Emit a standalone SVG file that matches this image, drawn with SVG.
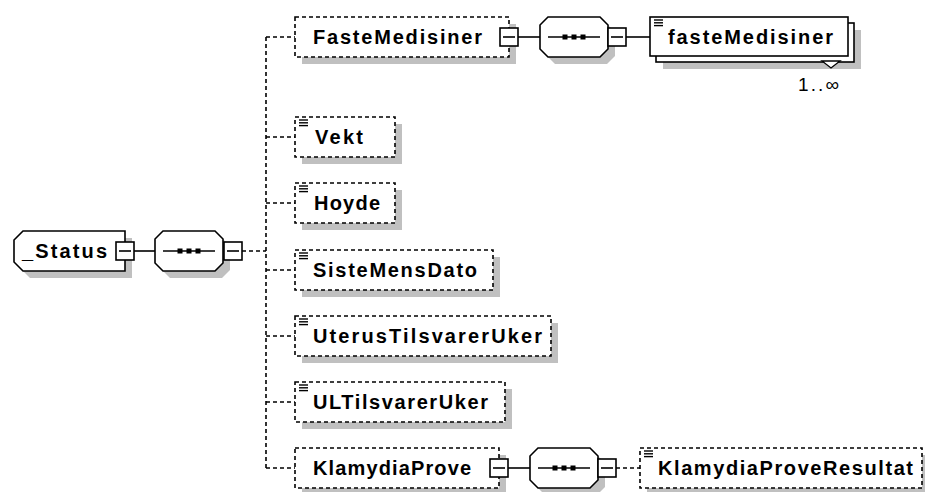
<svg xmlns="http://www.w3.org/2000/svg" xmlns:xlink="http://www.w3.org/1999/xlink" width="925" height="492" viewBox="0 0 925 492">
<style>
.bg{fill:#fff}
.sh{fill:#c0c0c0;stroke:none}
.box{fill:#fff;stroke:#000;stroke-width:1.6}
.dbox{fill:#fff;stroke:#000;stroke-width:1.6;stroke-dasharray:4 3}
.ln{stroke:#000;stroke-width:1.6;fill:none}
.dl{stroke:#000;stroke-width:1.6;fill:none;stroke-dasharray:4 3}
.t{font-family:"Liberation Sans",Arial,sans-serif;font-weight:bold;font-size:20px;fill:#000}
.m{font-family:"Liberation Sans",Arial,sans-serif;font-size:19px;fill:#000}
</style>
<defs>
<polygon id="oct" points="8,0 60,0 68,8 68,32 60,40 8,40 0,32 0,8"/>
<g id="seqmark">
<line x1="8" y1="20" x2="60" y2="20" stroke="#000" stroke-width="1.6"/>
<rect x="22.5" y="17.5" width="5" height="5" fill="#000"/>
<rect x="31.5" y="17.5" width="5" height="5" fill="#000"/>
<rect x="40.5" y="17.5" width="5" height="5" fill="#000"/>
</g>
<g id="minus">
<rect x="0" y="0" width="18" height="18" fill="#fff" stroke="#000" stroke-width="1.6"/>
<line x1="3" y1="9" x2="15" y2="9" stroke="#000" stroke-width="1.6"/>
</g>
<g id="icon" stroke="#000" stroke-width="1.4">
<line x1="0" y1="0" x2="9" y2="0"/>
<line x1="0" y1="2.8" x2="9" y2="2.8"/>
<line x1="0" y1="5.6" x2="9" y2="5.6"/>
</g>
</defs>
<rect class="bg" x="0" y="0" width="925" height="492"/>

<g id="connectors">
<line class="ln" x1="134" y1="251" x2="155" y2="251"/>
<line class="dl" x1="242" y1="251" x2="266" y2="251"/>
<line class="dl" x1="266" y1="37" x2="266" y2="468"/>
<line class="dl" x1="266" y1="37" x2="295" y2="37"/>
<line class="dl" x1="266" y1="137" x2="295" y2="137"/>
<line class="dl" x1="266" y1="203" x2="295" y2="203"/>
<line class="dl" x1="266" y1="270" x2="295" y2="270"/>
<line class="dl" x1="266" y1="336" x2="295" y2="336"/>
<line class="dl" x1="266" y1="402" x2="295" y2="402"/>
<line class="dl" x1="266" y1="468" x2="295" y2="468"/>
<line class="ln" x1="518" y1="37" x2="540" y2="37"/>
<line class="ln" x1="626" y1="37" x2="650" y2="37"/>
<line class="ln" x1="508" y1="468" x2="530" y2="468"/>
<line class="dl" x1="616" y1="468" x2="640" y2="468"/>
</g>

<g id="status">
<polygon class="sh" points="30,238 132,238 132,278 30,278 21,269 21,247"/>
<polygon class="box" points="23,231 125,231 125,271 23,271 14,262 14,240"/>
<text class="t" x="22" y="258" textLength="85" lengthAdjust="spacing">_Status</text>
<use xlink:href="#minus" x="116" y="242"/>
</g>

<g id="seq-main">
<use xlink:href="#oct" x="162" y="238" class="sh"/>
<use xlink:href="#oct" x="155" y="231" class="box"/>
<use xlink:href="#seqmark" x="155" y="231"/>
<use xlink:href="#minus" x="224" y="242"/>
</g>

<g id="FasteMedisiner">
<rect class="sh" x="302" y="24" width="214" height="40"/>
<rect class="dbox" x="295" y="17" width="214" height="40"/>
<text class="t" x="313" y="44" textLength="169" lengthAdjust="spacing">FasteMedisiner</text>
<use xlink:href="#minus" x="500" y="28"/>
</g>

<g id="seq-faste">
<use xlink:href="#oct" x="547" y="24" class="sh"/>
<use xlink:href="#oct" x="540" y="17" class="box"/>
<use xlink:href="#seqmark" x="540" y="17"/>
<use xlink:href="#minus" x="608" y="28"/>
</g>

<g id="fasteMedisiner">
<rect class="sh" x="663" y="30" width="198" height="39"/>
<rect class="box" x="656" y="23" width="198" height="39"/>
<rect class="box" x="650" y="17" width="198" height="39"/>
<polygon points="822,61 840,61 831,68" fill="#fff" stroke="#000" stroke-width="1.3"/>
<use xlink:href="#icon" x="654" y="20"/>
<text class="t" x="668" y="44" textLength="165" lengthAdjust="spacing">fasteMedisiner</text>
<text class="m" x="798" y="91" textLength="41" lengthAdjust="spacing">1..∞</text>
</g>

<g id="Vekt">
<rect class="sh" x="302" y="124" width="100" height="40"/>
<rect class="dbox" x="295" y="117" width="100" height="40"/>
<use xlink:href="#icon" x="299" y="120"/>
<text class="t" x="315" y="144" textLength="48" lengthAdjust="spacing">Vekt</text>
</g>

<g id="Hoyde">
<rect class="sh" x="302" y="190" width="100" height="40"/>
<rect class="dbox" x="295" y="183" width="100" height="40"/>
<use xlink:href="#icon" x="299" y="186"/>
<text class="t" x="314" y="210" textLength="66" lengthAdjust="spacing">Hoyde</text>
</g>

<g id="SisteMensDato">
<rect class="sh" x="302" y="257" width="198" height="40"/>
<rect class="dbox" x="295" y="250" width="198" height="40"/>
<use xlink:href="#icon" x="299" y="253"/>
<text class="t" x="313" y="277" textLength="164" lengthAdjust="spacing">SisteMensDato</text>
</g>

<g id="UterusTilsvarerUker">
<rect class="sh" x="302" y="323" width="256" height="40"/>
<rect class="dbox" x="295" y="316" width="256" height="40"/>
<use xlink:href="#icon" x="299" y="319"/>
<text class="t" x="313" y="343" textLength="229" lengthAdjust="spacing">UterusTilsvarerUker</text>
</g>

<g id="ULTilsvarerUker">
<rect class="sh" x="302" y="389" width="210" height="40"/>
<rect class="dbox" x="295" y="382" width="210" height="40"/>
<use xlink:href="#icon" x="299" y="385"/>
<text class="t" x="313" y="409" textLength="175" lengthAdjust="spacing">ULTilsvarerUker</text>
</g>

<g id="KlamydiaProve">
<rect class="sh" x="302" y="455" width="204" height="40"/>
<rect class="dbox" x="295" y="448" width="204" height="40"/>
<text class="t" x="313" y="475" textLength="158" lengthAdjust="spacing">KlamydiaProve</text>
<use xlink:href="#minus" x="490" y="459"/>
</g>

<g id="seq-klamydia">
<use xlink:href="#oct" x="537" y="455" class="sh"/>
<use xlink:href="#oct" x="530" y="448" class="box"/>
<use xlink:href="#seqmark" x="530" y="448"/>
<use xlink:href="#minus" x="598" y="459"/>
</g>

<g id="KlamydiaProveResultat">
<rect class="sh" x="647" y="455" width="282" height="40"/>
<rect class="dbox" x="640" y="448" width="282" height="40"/>
<use xlink:href="#icon" x="644" y="451"/>
<text class="t" x="658" y="475" textLength="255" lengthAdjust="spacing">KlamydiaProveResultat</text>
</g>
</svg>
